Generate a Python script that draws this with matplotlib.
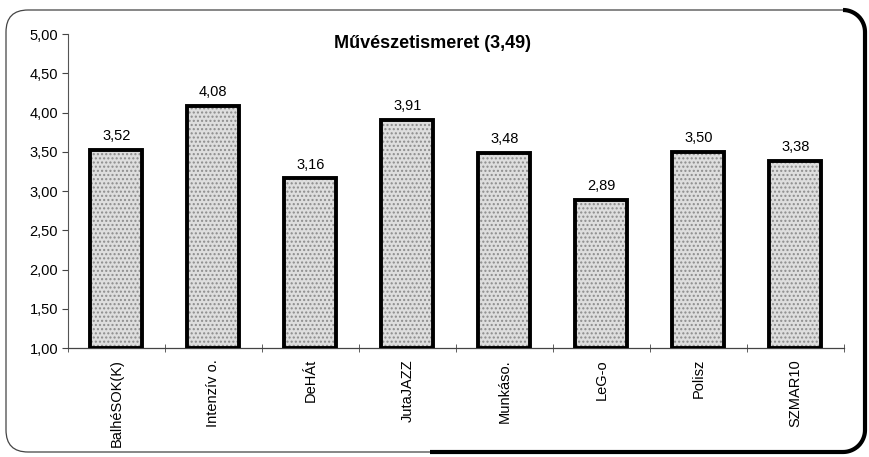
import numpy as np
import matplotlib
matplotlib.use("Agg")
from matplotlib import pyplot as plt
from matplotlib.patches import FancyBboxPatch

plt.rcParams['font.family'] = ['Liberation Sans', 'DejaVu Sans']

# adatok
kategoriak = ["BalhéSOK(K)", "Intenzív o.", "DeHÁt", "JutaJAZZ", "Munkáso.", "LeG-o", "Polisz", "SZMAR10"]
ertekek = [3.52, 4.08, 3.16, 3.91, 3.48, 2.89, 3.50, 3.38]
cim = "Művészetismeret (3,49)"
y_tickek = [1.0, 1.5, 2.0, 2.5, 3.0, 3.5, 4.0, 4.5, 5.0]

fig = plt.figure(figsize=(8.69, 4.57), dpi=100)

# hatter: lekerekitett keret, pixel koordinatakban
bg = fig.add_axes([0, 0, 1, 1], zorder=-1)
bg.set_xlim(0, 869)
bg.set_ylim(457, 0)
bg.axis("off")
r = 22
keret = FancyBboxPatch((6, 10), 859, 442, boxstyle="round,pad=0,rounding_size=%d" % r,
                       facecolor="white", edgecolor="#444444", linewidth=0.9)
bg.add_patch(keret)
# vastag jobb es also szel (arnyek), a sarkoknal ivvel
t1 = np.linspace(-np.pi / 2, 0, 20)
t2 = np.linspace(0, np.pi / 2, 20)
px = np.concatenate([843 + r * np.cos(t1), 843 + r * np.cos(t2), [430]])
py = np.concatenate([32 + r * np.sin(t1), 430 + r * np.sin(t2), [452]])
bg.plot(px, py, color="black", linewidth=3, solid_capstyle="butt", solid_joinstyle="round")

ax = fig.add_axes([0.078, 0.2385, 0.893, 0.687])
x = np.arange(len(kategoriak))
alap = 1.0
magassag = [v - alap for v in ertekek]

ax.bar(x, magassag, bottom=alap, width=0.54, color="#dedede", hatch="....",
       edgecolor="#8c8c8c", linewidth=0, zorder=2)
ax.bar(x, magassag, bottom=alap, width=0.54, color="none", edgecolor="black",
       linewidth=2.8, zorder=3)

for xi, v in zip(x, ertekek):
    ax.annotate(("%.2f" % v).replace(".", ","), (xi, v), xytext=(0, 5), textcoords="offset points",
                ha="center", va="bottom", fontsize=10.5)

ax.set_xlim(-0.5, len(kategoriak) - 0.5)
ax.set_ylim(1.0, 5.0)
ax.set_yticks(y_tickek)
ax.set_yticklabels([("%.2f" % t).replace(".", ",") for t in y_tickek], fontsize=10.5)
ax.set_xticks(x)
ax.set_xticklabels(kategoriak, rotation=90, fontsize=10.5)
ax.tick_params(axis="x", length=0, pad=8)
ax.set_xticks(np.arange(len(kategoriak) + 1) - 0.5, minor=True)
ax.tick_params(axis="x", which="minor", length=6, direction="inout", color="#444444")
ax.tick_params(axis="y", length=4, direction="out", color="#444444", pad=3)

for s in ["top", "right"]:
    ax.spines[s].set_visible(False)
ax.spines["left"].set_color("#555555")
ax.spines["left"].set_linewidth(0.8)
ax.spines["bottom"].set_color("#444444")
ax.spines["bottom"].set_linewidth(0.9)
ax.patch.set_alpha(0)

ax.set_title(cim, fontsize=13, fontweight="bold", x=0.47, y=0.955, pad=0)

plt.savefig("out.png", dpi=100)
